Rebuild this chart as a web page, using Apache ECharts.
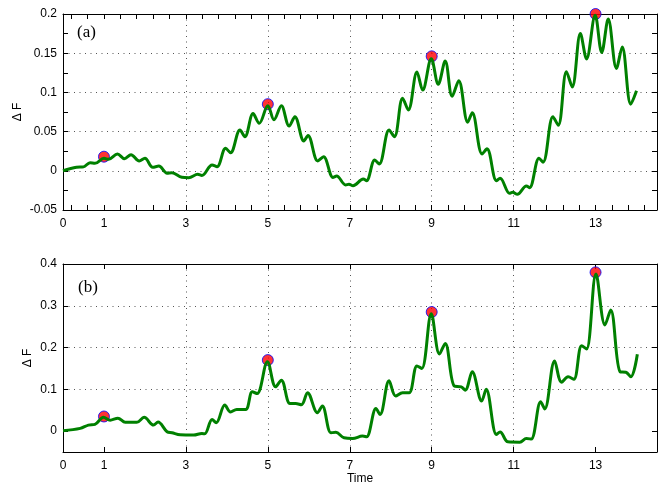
<!DOCTYPE html>
<html>
<head>
<meta charset="utf-8">
<script src="https://cdn.jsdelivr.net/npm/echarts@6/dist/echarts.min.js"></script>
<style>
html,body{margin:0;padding:0;background:#fff;}
#c{width:666px;height:487px;}
</style>
</head>
<body>
<div id="c"></div>
<script>
// ---- data ----
var tA = [0,0.33,0.5,0.66,0.78,1.0,1.11,1.33,1.5,1.66,1.86,2.0,2.19,2.34,2.54,2.66,2.9,3.07,3.29,3.39,3.64,3.76,3.97,4.09,4.32,4.44,4.64,4.79,5.0,5.15,5.33,5.52,5.66,5.88,5.98,6.22,6.36,6.59,6.68,6.9,6.98,7.08,7.33,7.41,7.61,7.72,7.96,8.09,8.29,8.43,8.64,8.78,8.99,9.16,9.33,9.5,9.66,9.88,9.99,10.23,10.35,10.58,10.67,10.9,10.98,11.09,11.31,11.39,11.62,11.72,11.96,12.09,12.29,12.43,12.63,12.78,12.99,13.15,13.31,13.51,13.65,13.86,14.0];
var fA = [0.000,0.0045,0.005,0.0104,0.0095,0.016,0.0146,0.0214,0.0155,0.0206,0.0125,0.016,0.0045,0.006,-0.003,-0.0024,-0.0083,-0.0088,-0.0045,-0.006,0.0074,0.0053,0.0287,0.023,0.052,0.0435,0.073,0.0605,0.083,0.065,0.083,0.057,0.069,0.038,0.045,0.0125,0.018,-0.0085,-0.0067,-0.018,-0.017,-0.019,-0.0105,-0.0126,0.0138,0.0087,0.052,0.0435,0.0925,0.0775,0.126,0.103,0.143,0.1105,0.140,0.095,0.115,0.062,0.074,0.0214,0.028,-0.0126,-0.0096,-0.0287,-0.0275,-0.030,-0.0194,-0.0215,0.016,0.011,0.069,0.058,0.1264,0.107,0.175,0.1426,0.1985,0.151,0.1935,0.1306,0.158,0.085,0.102];
var tB = [0,0.42,0.62,0.78,0.99,1.15,1.34,1.52,1.8,1.98,2.21,2.32,2.54,2.66,2.86,3.19,3.39,3.46,3.64,3.74,3.95,4.09,4.24,4.46,4.62,4.74,4.99,5.19,5.33,5.54,5.68,5.82,5.97,6.21,6.33,6.54,6.66,6.86,7.07,7.31,7.41,7.64,7.74,7.96,8.12,8.29,8.45,8.64,8.76,8.99,9.19,9.33,9.55,9.72,9.82,9.99,10.22,10.33,10.58,10.67,10.86,11.15,11.31,11.43,11.66,11.76,12.0,12.17,12.33,12.47,12.66,12.78,13.01,13.23,13.37,13.6,13.74,13.86,14.02];
var fB = [0.001,0.0065,0.0144,0.016,0.033,0.026,0.031,0.021,0.021,0.033,0.0144,0.0216,-0.0016,-0.004,-0.009,-0.0096,-0.0056,-0.0064,0.028,0.020,0.0624,0.046,0.052,0.052,0.094,0.090,0.166,0.106,0.122,0.066,0.066,0.063,0.092,0.044,0.060,-0.004,-0.003,-0.016,-0.0176,-0.012,-0.0136,0.054,0.040,0.1206,0.084,0.092,0.092,0.156,0.150,0.281,0.1846,0.210,0.108,0.106,0.098,0.142,0.072,0.100,-0.008,-0.002,-0.0256,-0.0264,-0.0176,-0.019,0.070,0.053,0.168,0.117,0.130,0.124,0.2046,0.1966,0.376,0.254,0.290,0.142,0.141,0.130,0.184];
var peakT = [1,5,9,13];
var peakA = [0.018,0.085,0.146,0.2];
var peakB = [0.035,0.17,0.285,0.38];
var xLabels = [0,1,3,5,7,9,11,13];
var xGrid = [1,3,5,7,9,11,13];
var xMinorA = [0.2,0.6,1.0,1.4,1.8,2.2,2.6,3.0,3.4,3.8,4.2,4.6,5.0,5.4,5.8,6.2,6.6,7.0,7.4,7.8,8.2,8.6,9.0,9.4,9.8,10.2,10.6,11.0,11.4,11.8,12.2,12.6,13.0,13.4,13.8,14.2];
var yTicksA = [-0.05,0,0.05,0.1,0.15,0.2];
var yTicksB = [0,0.1,0.2,0.3,0.4];
var panelLabels = ['(a)','(b)'];
var yName = '\u0394 F';
var xName = 'Time';

function pairs(t, v){ return t.map(function(x,i){ return [x, v[i]]; }); }

var FONT = 'Liberation Sans';
var axisLineStyle = {color:'#000', width:1};
var gridLine = {show:true, lineStyle:{color:'#555', width:1, type:[1,4.5]}};
var lab = {fontFamily:FONT, fontSize:12, color:'#000'};

function xAxes(gi, ticks, name){
  return [
    {gridIndex:gi, type:'value', min:0, max:14.5, position:'bottom',
     axisLine:{show:true, onZero:false, lineStyle:axisLineStyle},
     axisTick:{show:false, customValues:xGrid},
     axisLabel:Object.assign({customValues:xLabels, margin:8}, lab),
     splitLine:Object.assign({showMinLine:false, showMaxLine:false}, gridLine),
     name:name||'', nameLocation:'middle', nameGap:21,
     nameTextStyle:{fontFamily:FONT, fontSize:12, color:'#000'}},
    {gridIndex:gi, type:'value', min:0, max:14.5, position:'bottom', offset:0,
     axisLine:{show:false, onZero:false},
     axisTick:{show:true, inside:true, length:5, customValues:ticks, lineStyle:axisLineStyle},
     axisLabel:{show:false}, splitLine:{show:false}},
    {gridIndex:gi, type:'value', min:0, max:14.5, position:'top',
     axisLine:{show:true, onZero:false, lineStyle:axisLineStyle},
     axisTick:{show:true, inside:true, length:5, customValues:ticks, lineStyle:axisLineStyle},
     axisLabel:{show:false}, splitLine:{show:false}}
  ];
}

var yAxisA = {gridIndex:0, type:'value', min:-0.05, max:0.2, interval:0.05, position:'left',
  axisLine:{show:true, onZero:false, lineStyle:axisLineStyle},
  axisTick:{show:true, inside:true, length:5, lineStyle:axisLineStyle},
  minorTick:{show:true, splitNumber:2, length:5, lineStyle:axisLineStyle},
  axisLabel:Object.assign({margin:6, formatter:function(v){return String(+v.toFixed(3));}}, lab),
  splitLine:Object.assign({showMinLine:false, showMaxLine:false}, gridLine)};
var yAxisA2 = {gridIndex:0, type:'value', min:-0.05, max:0.2, interval:0.05, position:'right',
  axisLine:{show:true, onZero:false, lineStyle:axisLineStyle},
  axisTick:{show:true, inside:true, length:5, lineStyle:axisLineStyle},
  minorTick:{show:true, splitNumber:2, length:5, lineStyle:axisLineStyle},
  axisLabel:{show:false}, splitLine:{show:false}};
var yAxisB = {gridIndex:1, type:'value', min:-0.05, max:0.4, position:'left',
  axisLine:{show:true, onZero:false, lineStyle:axisLineStyle},
  axisTick:{show:true, inside:true, length:5, customValues:yTicksB, lineStyle:axisLineStyle},
  axisLabel:Object.assign({margin:6, customValues:yTicksB}, lab),
  splitLine:Object.assign({showMinLine:false, showMaxLine:false}, gridLine)};
var yAxisB2 = {gridIndex:1, type:'value', min:-0.05, max:0.4, position:'right',
  axisLine:{show:true, onZero:false, lineStyle:axisLineStyle},
  axisTick:{show:true, inside:true, length:5, customValues:yTicksB, lineStyle:axisLineStyle},
  axisLabel:{show:false}, splitLine:{show:false}};

var xs = xAxes(0, xMinorA, '').concat(xAxes(1, xGrid, xName));

var lineStyle = {color:'rgb(0,128,0)', width:3};
var markerStyle = {color:'#ff0000', borderColor:'#0000ff', borderWidth:1};

var option = {
  animation:false,
  backgroundColor:'#fff',
  grid:[
    {left:63, top:14, width:594, height:196},
    {left:63, top:264, width:594, height:188}
  ],
  xAxis: xs,
  yAxis: [yAxisA, yAxisA2, yAxisB, yAxisB2],
  graphic:[
    {type:'text', left:77, top:24, style:{text:panelLabels[0], font:'17px "Liberation Serif"', fill:'#000'}},
    {type:'text', left:78, top:279, style:{text:panelLabels[1], font:'17px "Liberation Serif"', fill:'#000'}},
    {type:'text', x:18, y:112, rotation:Math.PI/2, style:{text:yName, font:'12px "Liberation Sans"', fill:'#000', align:'center', verticalAlign:'middle'}},
    {type:'text', x:28, y:358, rotation:Math.PI/2, style:{text:yName, font:'12px "Liberation Sans"', fill:'#000', align:'center', verticalAlign:'middle'}}
  ],
  series:[
    {type:'scatter', xAxisIndex:0, yAxisIndex:0, z:2, symbol:'circle', symbolSize:11,
     itemStyle:markerStyle, data:pairs(peakT, peakA)},
    {type:'line', xAxisIndex:0, yAxisIndex:0, z:3, smooth:0.35, showSymbol:false, symbol:'none',
     lineStyle:lineStyle, data:pairs(tA, fA)},
    {type:'scatter', xAxisIndex:3, yAxisIndex:2, z:2, symbol:'circle', symbolSize:11,
     itemStyle:markerStyle, data:pairs(peakT, peakB)},
    {type:'line', xAxisIndex:3, yAxisIndex:2, z:3, smooth:0.35, showSymbol:false, symbol:'none',
     lineStyle:lineStyle, data:pairs(tB, fB)}
  ]
};
var chart = echarts.init(document.getElementById('c'), null, {renderer:'canvas'});
chart.setOption(option);
</script>
</body>
</html>
